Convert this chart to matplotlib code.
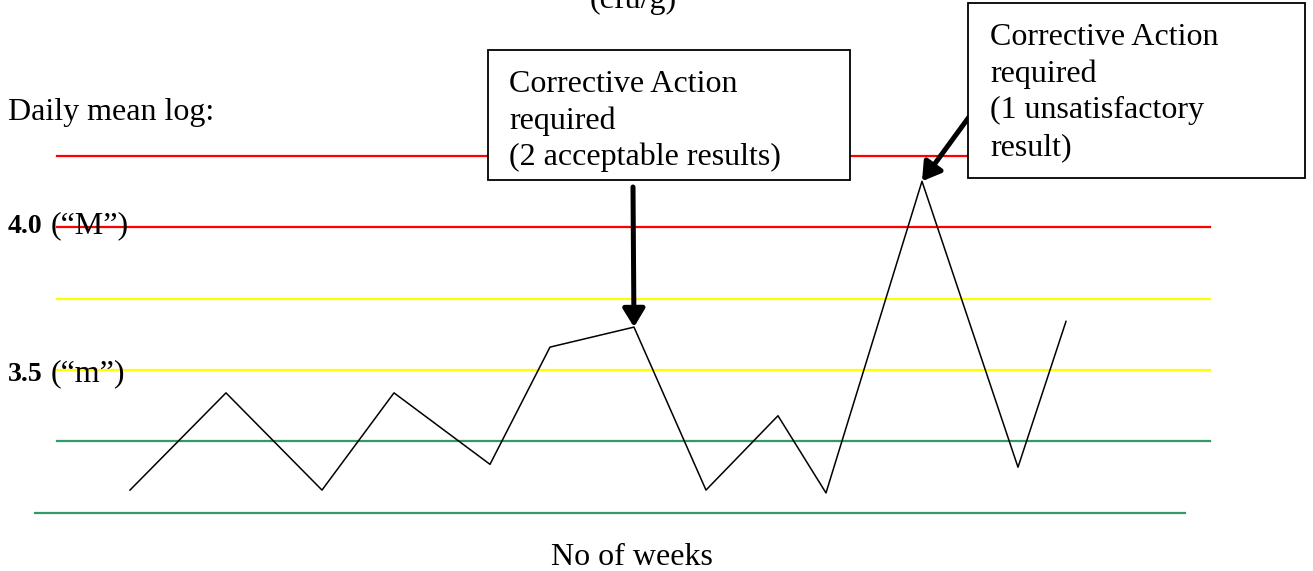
import matplotlib.pyplot as plt
from matplotlib.patches import Rectangle

plt.rcParams['font.family'] = ['Liberation Serif', 'DejaVu Serif']

# weekly daily-mean log counts (cfu/g)
weeks = [0, 2, 4, 5.5, 7.5, 8.75, 10.5, 12, 13.5, 14.5, 16.5, 18.5, 19.5]
log_counts = [3.08, 3.42, 3.08, 3.42, 3.17, 3.58, 3.65, 3.08, 3.34, 3.07, 4.16, 3.16, 3.67]

# limit lines: level, colour, start week, end week
limit_levels = [4.25, 4.0, 3.75, 3.5, 3.25, 3.0]
limit_colors = ['#ff0000', '#ff0000', '#ffff00', '#ffff00', '#339966', '#339966']
limit_start = [-1.52, -1.52, -1.52, -1.52, -1.52, -1.98]
limit_end = [22.5, 22.5, 22.5, 22.5, 22.5, 21.98]

W, H = 1313, 571
fig = plt.figure(figsize=(W / 100, H / 100), dpi=100)
ax = fig.add_axes([0, 0, 1, 1])
ax.set_xlim(-2.708, 24.646)
ax.set_ylim(2.797, 4.794)
ax.axis('off')

for lvl, c, x0, x1 in zip(limit_levels, limit_colors, limit_start, limit_end):
    ax.plot([x0, x1], [lvl, lvl], color=c, lw=1.6, zorder=1)

ax.plot(weeks, log_counts, color='black', lw=1.1, zorder=2)


def fx(px):
    return px / W


def fy(py):
    return 1 - py / H


fs = 23
fig.text(fx(633), fy(8), '(cfu/g)', ha='center', va='baseline', fontsize=fs)
fig.text(fx(8), fy(120), 'Daily mean log:', ha='left', va='baseline', fontsize=fs)
fig.text(fx(8), fy(233), '4.0', ha='left', va='baseline', fontsize=20, fontweight='bold')
fig.text(fx(51), fy(233), '(\u201cM\u201d)', ha='left', va='baseline', fontsize=fs)
fig.text(fx(8), fy(381), '3.5', ha='left', va='baseline', fontsize=20, fontweight='bold')
fig.text(fx(51), fy(381), '(\u201cm\u201d)', ha='left', va='baseline', fontsize=fs)
fig.text(fx(632), fy(565), 'No of weeks', ha='center', va='baseline', fontsize=fs)

# annotation boxes: left, top, width, height, text x, first baseline, lines
boxes = [
    (488, 50, 362, 130, 509, 92, ['Corrective Action', 'required', '(2 acceptable results)']),
    (968, 3, 337, 175, 990, 45, ['Corrective Action', 'required', '(1 unsatisfactory', 'result)']),
]
for bx, by, bw, bh, tx, ty, lines in boxes:
    fig.patches.append(Rectangle((fx(bx), fy(by + bh)), bw / W, bh / H,
                                 transform=fig.transFigure, facecolor='white',
                                 edgecolor='black', lw=1.3, zorder=3))
    for i, line in enumerate(lines):
        fig.text(fx(tx), fy(ty + i * 36.7), line, ha='left', va='baseline',
                 fontsize=fs, zorder=4)

arrow = dict(arrowstyle='-|>,head_length=0.9,head_width=0.55', color='black',
             lw=3.6, mutation_scale=12, shrinkA=0, shrinkB=0)
ax.annotate('', xy=(weeks[6], log_counts[6]), xytext=(fx(633), fy(187)),
            textcoords='figure fraction', arrowprops=arrow, zorder=5)
ax.annotate('', xy=(weeks[10], log_counts[10]), xytext=(fx(969), fy(117)),
            textcoords='figure fraction', arrowprops=arrow, zorder=5)

fig.savefig('out.png', dpi=100)
